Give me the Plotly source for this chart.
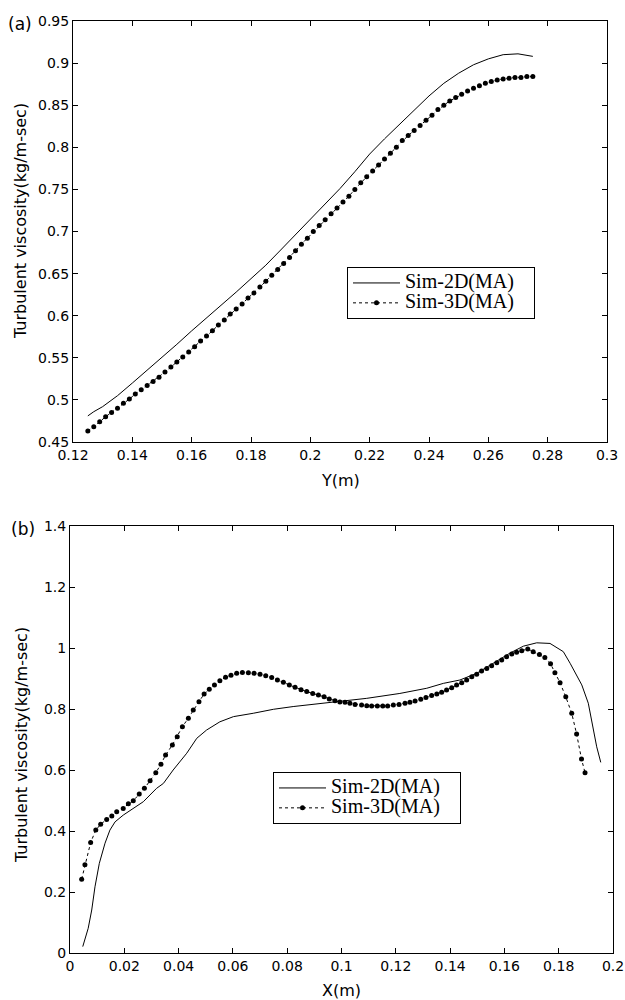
import plotly.graph_objects as go

W, H = 625, 1000

# ---------------- Panel (a) data ----------------
a_2d_x = [0.125, 0.127, 0.13, 0.135, 0.14, 0.145, 0.15, 0.155, 0.16, 0.165, 0.17, 0.175,
          0.18, 0.185, 0.19, 0.195, 0.2, 0.205, 0.21, 0.215, 0.22, 0.225, 0.23, 0.235,
          0.24, 0.245, 0.25, 0.255, 0.26, 0.265, 0.27, 0.275]
a_2d_y = [0.481, 0.486, 0.492, 0.505, 0.520, 0.535, 0.550, 0.566, 0.582, 0.597, 0.613, 0.628,
          0.644, 0.660, 0.678, 0.696, 0.714, 0.732, 0.751, 0.771, 0.792, 0.810, 0.827, 0.843,
          0.861, 0.876, 0.888, 0.898, 0.905, 0.910, 0.911, 0.908]

a_3d_x = [0.125, 0.127, 0.129, 0.131, 0.133, 0.135, 0.137, 0.139, 0.141, 0.143,
          0.145, 0.147, 0.149, 0.151, 0.153, 0.155, 0.157, 0.159, 0.161, 0.163,
          0.165, 0.167, 0.169, 0.171, 0.173, 0.175, 0.177, 0.179, 0.181, 0.183,
          0.185, 0.187, 0.189, 0.191, 0.193, 0.195, 0.197, 0.199, 0.201, 0.203,
          0.205, 0.207, 0.209, 0.211, 0.213, 0.215, 0.217, 0.219, 0.221, 0.223,
          0.225, 0.227, 0.229, 0.231, 0.233, 0.235, 0.237, 0.239, 0.241, 0.243,
          0.245, 0.247, 0.249, 0.251, 0.253, 0.255, 0.257, 0.259, 0.261, 0.263,
          0.265, 0.267, 0.269, 0.271, 0.273, 0.275]
a_3d_y = [0.463, 0.468, 0.474, 0.480, 0.485, 0.490, 0.496, 0.501, 0.507, 0.512,
          0.517, 0.522, 0.527, 0.533, 0.539, 0.545, 0.551, 0.557, 0.563, 0.570,
          0.576, 0.582, 0.589, 0.595, 0.602, 0.608, 0.614, 0.621, 0.627, 0.634,
          0.641, 0.648, 0.655, 0.662, 0.669, 0.677, 0.685, 0.692, 0.700, 0.707,
          0.714, 0.721, 0.728, 0.735, 0.742, 0.750, 0.758, 0.765, 0.772, 0.779,
          0.786, 0.793, 0.800, 0.808, 0.814, 0.820, 0.826, 0.832, 0.838, 0.845,
          0.850, 0.855, 0.859, 0.863, 0.867, 0.870, 0.873, 0.876, 0.878, 0.880,
          0.881, 0.882, 0.883, 0.883, 0.884, 0.884]

# ---------------- Panel (b) data ----------------
b_2d_x = [0.0047, 0.0067, 0.008, 0.0092, 0.0108, 0.0129, 0.0147, 0.0166, 0.0196, 0.0233,
          0.027, 0.0319, 0.0344, 0.038, 0.043, 0.0467, 0.0503, 0.0552, 0.0602, 0.0675,
          0.0749, 0.0822, 0.0909, 0.097, 0.1093, 0.1215, 0.1314, 0.1375, 0.1436, 0.1498,
          0.1559, 0.162, 0.167, 0.1719, 0.1768, 0.1817, 0.1842, 0.1885, 0.1909, 0.194, 0.1955]
b_2d_y = [0.021, 0.081, 0.141, 0.217, 0.294, 0.360, 0.403, 0.430, 0.452, 0.474,
          0.496, 0.540, 0.556, 0.600, 0.655, 0.704, 0.731, 0.758, 0.775, 0.786,
          0.799, 0.808, 0.816, 0.824, 0.835, 0.851, 0.868, 0.884, 0.895, 0.917,
          0.950, 0.983, 1.006, 1.017, 1.015, 0.988, 0.950, 0.879, 0.819, 0.676, 0.625]

b_3d_x = [0.0043, 0.0055, 0.0076, 0.0095, 0.0113, 0.0135, 0.0154, 0.0172, 0.0196, 0.0215,
          0.0233, 0.0255, 0.0274, 0.0295, 0.0316, 0.0335, 0.0352, 0.0377, 0.0395, 0.0414,
          0.0436, 0.0454, 0.0475, 0.0494, 0.0513, 0.0532, 0.0552, 0.0573, 0.0593, 0.0614,
          0.0635, 0.0657, 0.0678, 0.0700, 0.0721, 0.0743, 0.0764, 0.0786, 0.0808, 0.0829,
          0.0851, 0.0872, 0.0894, 0.0915, 0.0936, 0.0955, 0.0976, 0.0994, 0.1013, 0.1031,
          0.1050, 0.1074, 0.1093, 0.1111, 0.1132, 0.1152, 0.1170, 0.1191, 0.1212, 0.1234,
          0.1252, 0.1271, 0.1292, 0.1311, 0.1332, 0.1351, 0.1369, 0.1387, 0.1406, 0.1424,
          0.1443, 0.1461, 0.1480, 0.1498, 0.1516, 0.1535, 0.1553, 0.1572, 0.1590, 0.1608,
          0.1627, 0.1645, 0.1664, 0.1686, 0.1706, 0.1729, 0.1749, 0.1770, 0.1786, 0.1805,
          0.1826, 0.1848, 0.1866, 0.1884, 0.1897]
b_3d_y = [0.242, 0.289, 0.362, 0.403, 0.422, 0.438, 0.449, 0.463, 0.474, 0.489,
          0.499, 0.521, 0.540, 0.565, 0.591, 0.619, 0.649, 0.682, 0.709, 0.742,
          0.770, 0.797, 0.824, 0.849, 0.865, 0.879, 0.893, 0.904, 0.911, 0.917,
          0.920, 0.919, 0.917, 0.914, 0.909, 0.903, 0.895, 0.888, 0.879, 0.871,
          0.863, 0.857, 0.851, 0.846, 0.840, 0.833, 0.827, 0.823, 0.822, 0.819,
          0.815, 0.813, 0.811, 0.810, 0.810, 0.810, 0.810, 0.813, 0.815, 0.819,
          0.822, 0.826, 0.832, 0.838, 0.844, 0.849, 0.855, 0.862, 0.870, 0.879,
          0.886, 0.895, 0.906, 0.914, 0.925, 0.933, 0.942, 0.952, 0.961, 0.971,
          0.980, 0.986, 0.991, 0.997, 0.988, 0.979, 0.969, 0.948, 0.919, 0.886,
          0.840, 0.786, 0.718, 0.636, 0.591]

# tick labels
a_xticks = [0.12, 0.14, 0.16, 0.18, 0.2, 0.22, 0.24, 0.26, 0.28, 0.3]
a_xlabels = ["0.12", "0.14", "0.16", "0.18", "0.2", "0.22", "0.24", "0.26", "0.28", "0.3"]
a_yticks = [0.45, 0.5, 0.55, 0.6, 0.65, 0.7, 0.75, 0.8, 0.85, 0.9, 0.95]
a_ylabels = ["0.45", "0.5", "0.55", "0.6", "0.65", "0.7", "0.75", "0.8", "0.85", "0.9", "0.95"]
b_xticks = [0, 0.02, 0.04, 0.06, 0.08, 0.1, 0.12, 0.14, 0.16, 0.18, 0.2]
b_xlabels = ["0", "0.02", "0.04", "0.06", "0.08", "0.1", "0.12", "0.14", "0.16", "0.18", "0.2"]
b_yticks = [0, 0.2, 0.4, 0.6, 0.8, 1.0, 1.2, 1.4]
b_ylabels = ["0", "0.2", "0.4", "0.6", "0.8", "1", "1.2", "1.4"]

names = ["Sim-2D(MA)", "Sim-3D(MA)"]

# legend entries: large serif text inside a compact legend row
def leg_name(s):
    return '<span style="font-size:20px">' + s + "\u00a0\u00a0\u00a0</span>"

fig = go.Figure()

line2d = dict(color="black", width=1)
line3d = dict(color="black", width=1, dash="3px,3px")
mk = dict(color="black", size=5, symbol="circle")

fig.add_trace(go.Scatter(x=a_2d_x, y=a_2d_y, mode="lines", line=line2d, name=leg_name(names[0]),
                         xaxis="x", yaxis="y", legend="legend"))
fig.add_trace(go.Scatter(x=a_3d_x, y=a_3d_y, mode="lines+markers", line=line3d, marker=mk,
                         name=leg_name(names[1]), xaxis="x", yaxis="y", legend="legend"))
fig.add_trace(go.Scatter(x=b_2d_x, y=b_2d_y, mode="lines", line=line2d, name=leg_name(names[0]),
                         xaxis="x2", yaxis="y2", legend="legend2"))
fig.add_trace(go.Scatter(x=b_3d_x, y=b_3d_y, mode="lines+markers", line=line3d, marker=mk,
                         name=leg_name(names[1]), xaxis="x2", yaxis="y2", legend="legend2"))

tickfont = dict(family="DejaVu Sans", size=14, color="black")
axcommon = dict(showline=True, linecolor="black", linewidth=1, mirror="ticks",
                ticks="inside", ticklen=5, tickcolor="black", tickwidth=1,
                showgrid=False, zeroline=False, tickfont=tickfont, fixedrange=True,
                automargin=False)

def px_x(p):
    return p / W

def px_y(p):
    return 1 - p / H

legcommon = dict(xanchor="left", yanchor="top", bordercolor="black", borderwidth=1,
                 bgcolor="white", font=dict(family="Liberation Serif", size=13, color="black"),
                 tracegroupgap=0, itemwidth=47)

fig.update_layout(
    template="none",
    width=W, height=H,
    margin=dict(l=0, r=0, t=0, b=0, autoexpand=False),
    paper_bgcolor="white", plot_bgcolor="white",
    xaxis=dict(domain=[px_x(73), px_x(607)], range=[0.12, 0.3], tickvals=a_xticks,
               ticktext=a_xlabels, anchor="y", **axcommon),
    yaxis=dict(domain=[px_y(442), px_y(21)], range=[0.45, 0.95], tickvals=a_yticks,
               ticktext=a_ylabels, anchor="x", **axcommon),
    xaxis2=dict(domain=[px_x(70), px_x(613)], range=[0, 0.2], tickvals=b_xticks,
                ticktext=b_xlabels, anchor="y2", **axcommon),
    yaxis2=dict(domain=[px_y(953), px_y(526)], range=[0, 1.4], tickvals=b_yticks,
                ticktext=b_ylabels, anchor="x2", **axcommon),
    legend=dict(x=px_x(347), y=px_y(267), **legcommon),
    legend2=dict(x=px_x(273), y=px_y(772), **legcommon),
    showlegend=True,
)

titlefont = dict(family="DejaVu Sans", size=16, color="black")
ann = []
ann.append(dict(text="Y(m)", x=px_x(340), y=px_y(480), xref="paper", yref="paper",
                showarrow=False, font=titlefont, xanchor="center", yanchor="middle"))
ann.append(dict(text="X(m)", x=px_x(341), y=px_y(990), xref="paper", yref="paper",
                showarrow=False, font=titlefont, xanchor="center", yanchor="middle"))
ann.append(dict(text="Turbulent viscosity(kg/m-sec)", x=px_x(21), y=px_y(221), xref="paper",
                yref="paper", showarrow=False, font=titlefont, textangle=-90,
                xanchor="center", yanchor="middle"))
ann.append(dict(text="Turbulent viscosity(kg/m-sec)", x=px_x(21), y=px_y(745), xref="paper",
                yref="paper", showarrow=False, font=titlefont, textangle=-90,
                xanchor="center", yanchor="middle"))
labfont = dict(family="DejaVu Sans", size=17, color="black")
ann.append(dict(text="(a)", x=px_x(20), y=px_y(24), xref="paper", yref="paper",
                showarrow=False, font=labfont, xanchor="center", yanchor="middle"))
ann.append(dict(text="(b)", x=px_x(23), y=px_y(529), xref="paper", yref="paper",
                showarrow=False, font=labfont, xanchor="center", yanchor="middle"))
fig.update_layout(annotations=ann)

fig.write_html("out.html", config={"displayModeBar": False},
               post_script="document.body.style.margin='0px';document.body.style.overflow='hidden';")
